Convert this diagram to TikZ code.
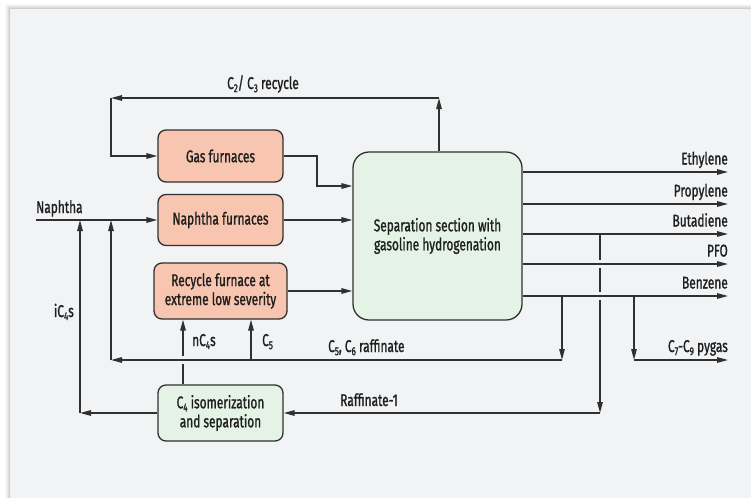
\documentclass[tikz,border=0pt]{standalone}
\usepackage{fontspec}
\setmainfont{Fira Sans}[FakeStretch=0.70, FakeBold=1.2]
\usetikzlibrary{arrows.meta}
\definecolor{panel}{HTML}{F1F3F5}
\definecolor{ink}{HTML}{303030}
\definecolor{furn}{HTML}{F8C5B0}
\definecolor{sepg}{HTML}{E5F3E6}
\newcommand\unitfont{\fontsize{17}{19}\selectfont}
\newcommand\lsub[1]{\raisebox{-0.35ex}{\fontsize{11.5}{11.5}\selectfont #1}}
\begin{document}
\begin{tikzpicture}[x=1pt,y=-1pt,
  pipe/.style={draw=ink, line width=1.4pt},
  flow/.style={pipe, -{Triangle[length=11pt,width=5.5pt]}},
  unit/.style={draw=ink, line width=1.3pt, rounded corners=8pt, align=center,
    inner sep=0pt, font=\unitfont, text=black!88},
  furnace/.style={unit, fill=furn},
  sepbox/.style={unit, fill=sepg},
  lbl/.style={inner sep=0pt, font=\unitfont, text=black!88}]
% page and panel with a soft edge
\useasboundingbox (0,0) rectangle (751,498);
\fill[white] (0,0) rectangle (751,498);
\foreach \d/\o in {5/0.02,4/0.03,3/0.04,2/0.05,1/0.06}{
  \fill[black,opacity=\o] (10-\d,9-\d) rectangle (751,498);}
\fill[panel] (10,9) rectangle (751,498);

% process units
\node[furnace, minimum width=125pt, minimum height=52pt] (gas) at (220.5,156) {Gas furnaces};
\node[furnace, minimum width=125pt, minimum height=51pt] (nap) at (220.5,220) {Naphtha furnaces};
\node[furnace, minimum width=133pt, minimum height=56pt] (rec) at (220.5,291) {Recycle furnace at\\extreme low severity};
\node[sepbox, rounded corners=16pt, minimum width=169pt, minimum height=168pt] (sep) at (437.5,236)
  {Separation section with\\gasoline hydrogenation};
\node[sepbox, minimum width=125pt, minimum height=56pt] (iso) at (220.5,413)
  {C\lsub{4} isomerization\\and separation};

% C2/C3 recycle loop
\coordinate (rt) at (439,98);
\coordinate (rl) at (111,98);
\draw[flow] (sep.north -| rt) -- (rt);
\draw[flow] (rt) -- (rl);
\draw[flow] (rl) |- (gas.west);
\node[lbl, anchor=base] at (263,89) {C\lsub{2}/ C\lsub{3} recycle};

% furnace effluents
\coordinate (gbend) at (317,186);
\draw[flow] (gas.east) -| (gbend) -- (sep.west |- gbend);
\draw[flow] (nap.east) -- (sep.west |- nap.east);
\draw[flow] (rec.east) -- (sep.west |- rec.east);

% naphtha feed
\coordinate (feed) at (36,220);
\draw[flow] (feed) -- (nap.west);
\node[lbl, anchor=base west] at (36,213) {Naphtha};

% products
\foreach \nm/\yy in {eth/172,pro/204,but/234,pfo/264,ben/296}{
  \coordinate (\nm) at (728,\yy);}
\draw[flow] (sep.east |- eth) -- (eth);
\draw[flow] (sep.east |- pro) -- (pro);
\draw[flow] (sep.east |- but) -- (but);
\draw[flow] (sep.east |- pfo) -- (pfo);
\draw[flow] (sep.east |- ben) -- (ben);
\node[lbl, anchor=base east] at (728,164.5) {Ethylene};
\node[lbl, anchor=base east] at (728,196.5) {Propylene};
\node[lbl, anchor=base east] at (728,226.5) {Butadiene};
\node[lbl, anchor=base east] at (728,256.5) {PFO};
\node[lbl, anchor=base east] at (728,288.5) {Benzene};

% raffinate-1 take-off (broken where it passes the PFO and benzene lines)
\coordinate (r0) at (600,234);
\coordinate (rg) at (600,300);
\coordinate (r1) at (600,413);
\draw[pipe, dash pattern=on 26pt off 8pt on 24pt off 8pt on 20pt] (r0) -- (rg);
\draw[flow] (rg) -- (r1);
\draw[flow] (r1) -- (iso.east);
\node[lbl, anchor=base east] at (398,406) {Raffinate-1};

% C5/C6 raffinate return
\coordinate (s1) at (562,296);
\coordinate (s2) at (562,360);
\coordinate (s3) at (111,360);
\draw[flow] (s1) -- (s2);
\draw[flow] (s2) -- (s3);
\draw[flow] (s3) -- (s3 |- feed);
\node[lbl, anchor=base west] at (328,352) {C\lsub{5}, C\lsub{6} raffinate};

% C7-C9 pyrolysis gasoline
\coordinate (p1) at (634,296);
\coordinate (p2) at (634,360);
\coordinate (p3) at (728,360);
\draw[flow] (p1) -- (p2);
\draw[flow] (p2) -- (p3);
\node[lbl, anchor=base east] at (728,352) {C\lsub{7}-C\lsub{9} pygas};

% C5 to recycle furnace
\coordinate (c5) at (251,360);
\draw[flow] (c5) -- (c5 |- rec.south);
\node[lbl, anchor=base west] at (262,346) {C\lsub{5}};

% nC4s to recycle furnace (broken at the raffinate line)
\coordinate (n4a) at (183,364);
\coordinate (n4b) at (183,356);
\draw[pipe] (iso.north -| n4a) -- (n4a);
\draw[flow] (n4b) -- (rec.south -| n4b);
\node[lbl, anchor=base west] at (192,346) {nC\lsub{4}s};

% iC4s back to the naphtha feed
\coordinate (ic) at (80,413);
\draw[flow] (iso.west) -- (ic);
\draw[flow] (ic) -- (ic |- feed);
\node[lbl, anchor=base east] at (74,317) {iC\lsub{4}s};
\end{tikzpicture}
\end{document}
